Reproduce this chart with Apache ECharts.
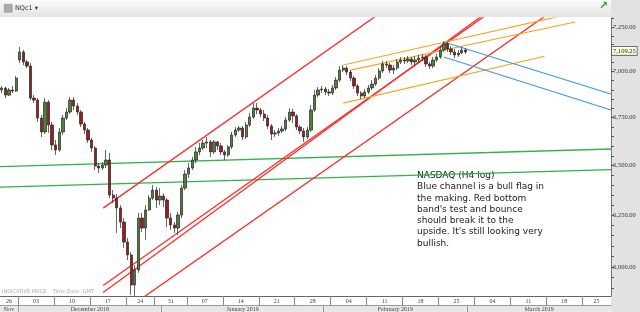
<!DOCTYPE html>
<html><head><meta charset="utf-8">
<script src="https://cdn.jsdelivr.net/npm/echarts@6/dist/echarts.min.js"></script>
<style>html,body{margin:0;padding:0;background:#fff}#c{width:640px;height:312px}</style>
</head><body><div id="c"></div>
<script>
// ---------- DATA ----------
// trading days shown on the category axis (two half-day slots each, except the listed short sessions)
const tradingDays = [
 '2018-11-28','2018-11-29','2018-11-30',
 '2018-12-03','2018-12-04','2018-12-05','2018-12-06','2018-12-07',
 '2018-12-10','2018-12-11','2018-12-12','2018-12-13','2018-12-14',
 '2018-12-17','2018-12-18','2018-12-19','2018-12-20','2018-12-21',
 '2018-12-24','2018-12-25','2018-12-26','2018-12-27','2018-12-28',
 '2018-12-31','2019-01-01','2019-01-02','2019-01-03','2019-01-04',
 '2019-01-07','2019-01-08','2019-01-09','2019-01-10','2019-01-11',
 '2019-01-14','2019-01-15','2019-01-16','2019-01-17','2019-01-18',
 '2019-01-21','2019-01-22','2019-01-23','2019-01-24','2019-01-25',
 '2019-01-28','2019-01-29','2019-01-30','2019-01-31','2019-02-01',
 '2019-02-04','2019-02-05','2019-02-06','2019-02-07','2019-02-08',
 '2019-02-11','2019-02-12','2019-02-13','2019-02-14','2019-02-15',
 '2019-02-18','2019-02-19','2019-02-20','2019-02-21','2019-02-22',
 '2019-02-25','2019-02-26','2019-02-27','2019-02-28','2019-03-01',
 '2019-03-04','2019-03-05','2019-03-06','2019-03-07','2019-03-08',
 '2019-03-11','2019-03-12','2019-03-13','2019-03-14','2019-03-15',
 '2019-03-18','2019-03-19','2019-03-20','2019-03-21','2019-03-22',
 '2019-03-25','2019-03-26','2019-03-27','2019-03-28'
];
const shortSessions = ['2018-11-28','2018-12-24','2018-12-25','2019-01-01'];

// NASDAQ futures candles [open, close, low, high]
const candles = [
 [6899,6910,6882,6921],[6910,6871,6855,6915],[6871,6899,6866,6910],[6899,6893,6882,6921],[6893,6964,6888,6975],
 [7064,7109,7047,7137],[7109,7053,7036,7120],[7053,7030,7019,7064],[7030,6855,6844,7047],[6855,6844,6828,6871],
 [6844,6748,6727,6855],[6748,6674,6648,6764],[6674,6833,6663,6855],[6833,6711,6669,6844],[6711,6606,6580,6727],
 [6606,6580,6554,6632],[6580,6674,6570,6695],[6674,6748,6658,6764],[6748,6780,6737,6801],[6780,6844,6769,6860],
 [6844,6812,6791,6860],[6812,6780,6764,6828],[6780,6716,6700,6791],[6716,6684,6663,6727],[6684,6632,6616,6695],
 [6632,6590,6570,6642],[6590,6497,6477,6601],[6497,6487,6461,6512],[6487,6502,6477,6518],[6502,6528,6487,6580],
 [6528,6350,6335,6564],[6350,6335,6310,6375],[6335,6286,6163,6355],[6286,6216,6187,6300],[6216,6119,6091,6236],
 [6119,6057,6033,6139],[6057,5915,5869,6072],[5915,5986,5860,6009],[5986,6236,5972,6261],[6236,6187,6167,6261],
 [6187,6276,6129,6300],[6276,6335,6271,6350],[6335,6375,6325,6401],[6375,6325,6286,6390],[6325,6345,6300,6385],
 [6345,6325,6290,6360],[6325,6236,6192,6335],[6236,6202,6177,6261],[6202,6187,6163,6216],[6187,6251,6153,6266],
 [6251,6385,6236,6401],[6385,6456,6375,6477],[6456,6487,6436,6512],[6487,6528,6477,6544],[6528,6570,6512,6596],
 [6570,6590,6554,6616],[6590,6616,6580,6632],[6616,6622,6590,6648],[6622,6570,6544,6632],[6570,6622,6559,6632],
 [6622,6601,6580,6627],[6601,6570,6554,6616],[6570,6554,6528,6580],[6554,6596,6544,6606],[6596,6658,6585,6674],
 [6658,6684,6648,6700],[6684,6695,6674,6706],[6695,6648,6632,6706],[6648,6711,6637,6727],[6711,6753,6700,6775],
 [6753,6801,6742,6828],[6801,6791,6769,6828],[6791,6769,6753,6801],[6769,6748,6732,6791],[6748,6706,6690,6764],
 [6706,6663,6632,6716],[6663,6669,6648,6684],[6669,6679,6653,6695],[6679,6690,6669,6706],[6690,6737,6679,6753],
 [6737,6780,6727,6801],[6780,6759,6722,6796],[6759,6700,6684,6769],[6700,6679,6663,6711],[6679,6648,6622,6695],
 [6648,6684,6637,6700],[6684,6791,6674,6817],[6791,6871,6780,6899],[6871,6899,6860,6915],[6899,6904,6882,6921],
 [6904,6888,6871,6915],[6888,6882,6866,6904],[6882,6910,6871,6926],[6910,6953,6899,6970],[6953,7008,6942,7030],
 [7008,7019,6997,7036],[7019,6997,6981,7030],[6997,6964,6948,7008],[6964,6921,6904,6975],[6921,6882,6866,6931],
 [6882,6866,6849,6893],[6866,6888,6855,6904],[6888,6910,6877,6926],[6910,6931,6899,6953],[6931,6964,6921,6981],
 [6964,7003,6953,7019],[7003,7042,6992,7058],[7042,7036,7019,7058],[7036,7008,6992,7047],[7008,7019,6986,7036],
 [7019,7053,7008,7070],[7053,7064,7042,7081],[7064,7058,7042,7081],[7058,7070,7047,7086],[7070,7053,7036,7081],
 [7053,7064,7030,7086],[7064,7075,7047,7092],[7075,7081,7058,7098],[7081,7042,7025,7092],[7042,7030,7014,7053],
 [7030,7064,7019,7081],[7064,7081,7053,7098],[7081,7120,7070,7142],[7120,7154,7109,7170],[7154,7126,7109,7165],
 [7126,7109,7092,7142],[7109,7092,7075,7126],[7092,7103,7081,7120],[7103,7120,7098,7137],[7120,7109.25,7098,7131]
];
const lastPrice = 7109.25;

// trend lines: [[slotIndex, price], [slotIndex, price]]
const redLines = [
 [[28.2,6285],[111,7415]],
 [[28.2,5913],[140,7396]],
 [[28.2,5880],[143,7458]],
 [[35,5807],[155,7369]]
];
const orangeLines = [
 [[95,7036],[158,7325]],
 [[97,7008],[159.5,7279]],
 [[95,6828],[151,7085]]
];
const blueLines = [
 [[123,7165],[169.5,6877]],
 [[123,7081],[169.5,6791]]
];
const greenLines = [
 [[-0.5,6494],[169.5,6585]],
 [[-0.5,6390],[169.5,6479]]
];

// axis labels
const yLabelValues = [6000,6250,6500,6750,7000,7250];
const yTickStep = 50;
const weekLabels = ['26','03','10','17','24','31','07','14','21','28','04','11','18','25','04','11','18','25'];
const monthLabels = ['Nov','December 2018','January 2019','February 2019','March 2019'];
const priceRange = [5864, 7302];
const annotation = "NASDAQ (H4 log)\nBlue channel is a bull flag in\nthe making. Red bottom\nband's test and bounce\nshould break it to the\nupside. It's still looking very\nbullish.";

// ---------- BUILD ----------
const slots = [], slotDates = [];
tradingDays.forEach(d => {
  const n = shortSessions.includes(d) ? 1 : 2;
  for (let i = 0; i < n; i++) { slots.push(d + (n === 2 ? (i ? ' PM' : ' AM') : '')); slotDates.push(d); }
});
const N = slots.length;
const weekStarts = [], monthStarts = [];
for (let i = 1; i < N; i++) {
  if (slotDates[i] !== slotDates[i-1]) {
    const dt = new Date(slotDates[i] + 'T12:00:00Z');
    if (dt.getUTCDay() === 1) weekStarts.push(i);
    if (slotDates[i].slice(5,7) !== slotDates[i-1].slice(5,7)) monthStarts.push(i);
  }
}
function segs(starts){
  const b = [-0.5].concat(starts.map(s => s - 0.5)).concat([N - 0.5]);
  const out = [];
  for (let i = 0; i < b.length - 1; i++) out.push((b[i] + b[i+1]) / 2);
  return {ticks: starts.map(s => s - 0.5), centers: out};
}
const wk = segs(weekStarts), mo = segs(monthStarts);
const wkMap = {}; wk.centers.forEach((c,i) => wkMap[c.toFixed(2)] = weekLabels[i] || '');
const moMap = {}; mo.centers.forEach((c,i) => moMap[c.toFixed(2)] = monthLabels[i] || '');

const LN = Math.log;
const yTicks = [];
for (let v = 5900; v <= 7300; v += yTickStep) yTicks.push(LN(v));
const fmt = v => Number(Math.exp(v).toFixed(2)).toLocaleString('en-US',{minimumFractionDigits:2, maximumFractionDigits:2});

function lineSeries(list, color, width){
  return list.map(seg => ({
    type:'line', xAxisIndex:1, yAxisIndex:0, silent:true, symbol:'none', clip:true,
    data: seg.map(p => [p[0], LN(p[1])]),
    lineStyle:{color:color, width:width}, z:3
  }));
}

const axisFont = 'Liberation Serif';
const chart = echarts.init(document.getElementById('c'));
chart.setOption({
  animation:false,
  grid:{left:0, right:29, top:18, bottom:16},
  xAxis:[
    {type:'category', data:slots, show:false, boundaryGap:true},
    {type:'value', min:-0.5, max:N-0.5, position:'bottom',
     axisLine:{show:true, onZero:false, lineStyle:{color:'#666', width:1}},
     axisTick:{show:true, customValues:wk.ticks, length:9, lineStyle:{color:'#888'}},
     axisLabel:{show:true, customValues:wk.centers, formatter:v => wkMap[v.toFixed(2)] || '', fontSize:6, margin:2, color:'#444', fontFamily:axisFont, hideOverlap:false},
     splitLine:{show:false}},
    {type:'value', min:-0.5, max:N-0.5, position:'bottom', offset:9,
     axisLine:{show:true, onZero:false, lineStyle:{color:'#999', width:1}},
     axisTick:{show:true, customValues:mo.ticks, length:7, lineStyle:{color:'#999'}},
     axisLabel:{show:true, customValues:mo.centers, formatter:v => moMap[v.toFixed(2)] || '', fontSize:6, margin:1, color:'#444', fontFamily:axisFont, hideOverlap:false},
     splitLine:{show:false}}
  ],
  yAxis:{type:'value', position:'right', min:LN(priceRange[0]), max:LN(priceRange[1]), scale:true,
    axisLine:{show:true, onZero:false, lineStyle:{color:'#777'}},
    axisTick:{show:true, customValues:yTicks, length:3, lineStyle:{color:'#555'}},
    axisLabel:{show:true, customValues:yLabelValues.map(LN), formatter:fmt, fontSize:6.5, margin:2, color:'#333', fontFamily:axisFont},
    splitLine:{show:false}},
  graphic:[
    {type:'rect', left:611, top:0, z:-10, shape:{width:29, height:312}, style:{fill:'#e2e2e2'}},
    {type:'rect', left:0, top:305, z:-10, shape:{width:611, height:7}, style:{fill:'#e8e8e8'}},
    {type:'rect', left:0, top:0, z:-5, shape:{width:611, height:17},
     style:{fill:new echarts.graphic.LinearGradient(0,0,0,1,[{offset:0,color:'#fafafa'},{offset:1,color:'#e4e4e4'}])}},
    {type:'rect', left:4, top:4, z:-4, shape:{width:8, height:8}, style:{fill:'#aaa', stroke:'#888', lineWidth:0.5}},
    {type:'text', left:15, top:4.5, z:-4, style:{text:'NQc1 \u25BE', fontSize:6.5, fill:'#333', fontFamily:'DejaVu Sans'}},
    {type:'text', left:599, top:1, style:{text:'\u2197', fontSize:11, fontWeight:'bold', fill:'#3aa03a', fontFamily:'DejaVu Sans'}},
    {type:'text', left:2, top:289.5, style:{text:'INDICATIVE PRICE    Time Zone: GMT', fontSize:5, fill:'#aaa', fontFamily:'DejaVu Sans'}},
    {type:'text', left:417, top:170, style:{text:annotation, fontSize:9, lineHeight:11.3, fill:'#222', fontFamily:'DejaVu Sans'}}
  ],
  series:[
    {type:'candlestick', xAxisIndex:0, yAxisIndex:0, barWidth:2.8, z:5,
     data:candles.map(c => c.map(LN)),
     itemStyle:{color:'#4f8034', color0:'#a01b1b', borderColor:'#262626', borderColor0:'#262626', borderWidth:0.7},
     markLine:{silent:true, symbol:'none', data:[{yAxis:LN(lastPrice)}],
       lineStyle:{color:'rgba(0,0,0,0)', width:0.1},
       label:{show:true, position:'end', distance:1, formatter:() => lastPrice.toLocaleString('en-US',{minimumFractionDigits:2}),
         backgroundColor:'#ffffdc', borderColor:'#555', borderWidth:0.8, padding:[1,1,0,1], fontSize:6.5, color:'#222', fontFamily:axisFont}}
    }
  ].concat(lineSeries(greenLines,'#2fb34a',1.3))
   .concat(lineSeries(redLines,'#ff2a2a',1.3))
   .concat(lineSeries(orangeLines,'#f5a623',1.2))
   .concat(lineSeries(blueLines,'#3d9ad8',1.2))
});
</script></body></html>
